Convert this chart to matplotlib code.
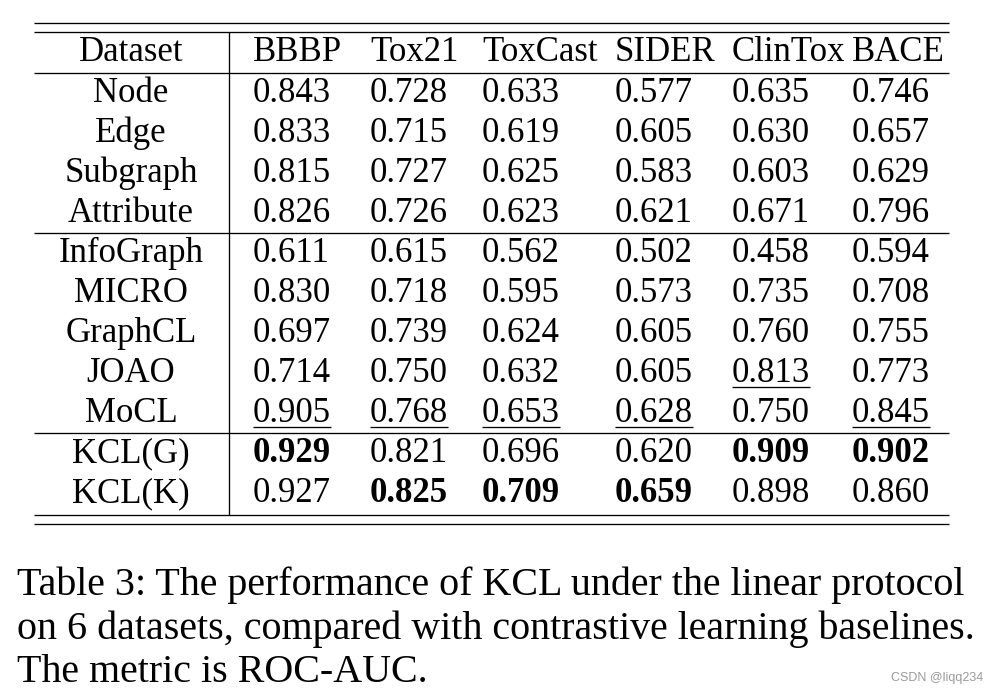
import matplotlib
matplotlib.use("Agg")
import matplotlib.pyplot as plt

datasets = ["BBBP", "Tox21", "ToxCast", "SIDER", "ClinTox", "BACE"]
methods = ["Node", "Edge", "Subgraph", "Attribute", "InfoGraph", "MICRO",
           "GraphCL", "JOAO", "MoCL", "KCL(G)", "KCL(K)"]
node = [0.843, 0.728, 0.633, 0.577, 0.635, 0.746]
edge = [0.833, 0.715, 0.619, 0.605, 0.630, 0.657]
subgraph = [0.815, 0.727, 0.625, 0.583, 0.603, 0.629]
attribute = [0.826, 0.726, 0.623, 0.621, 0.671, 0.796]
infograph = [0.611, 0.615, 0.562, 0.502, 0.458, 0.594]
micro = [0.830, 0.718, 0.595, 0.573, 0.735, 0.708]
graphcl = [0.697, 0.739, 0.624, 0.605, 0.760, 0.755]
joao = [0.714, 0.750, 0.632, 0.605, 0.813, 0.773]
mocl = [0.905, 0.768, 0.653, 0.628, 0.750, 0.845]
kcl_g = [0.929, 0.821, 0.696, 0.620, 0.909, 0.902]
kcl_k = [0.927, 0.825, 0.709, 0.659, 0.898, 0.860]
n_baselines = 9
caption_lines = [
    "Table 3: The performance of KCL under the linear protocol",
    "on 6 datasets, compared with contrastive learning baselines.",
    "The metric is ROC-AUC.",
]
watermark = "CSDN @liqq234"

rows = [node, edge, subgraph, attribute, infograph, micro, graphcl, joao,
        mocl, kcl_g, kcl_k]

W, H = 999, 694
fig = plt.figure(figsize=(W / 100, H / 100), dpi=100)
ax = fig.add_axes([0, 0, 1, 1])
ax.set_xlim(0, W)
ax.set_ylim(H, 0)
ax.axis("off")

FONT = "Liberation Serif"
FS = 25.0
LW = 0.95

# layout
col_x = [253, 370, 482, 615, 732, 852]
name_x = 131
header_y = 61
row_y0, row_dy = 102, 40
x_left, x_right, x_vert = 34, 949, 229

# rules
for y in [23, 32, 73, 233, 433, 515, 524]:
    ax.plot([x_left, x_right], [y, y], color="black", lw=LW,
            solid_capstyle="butt")
ax.plot([x_vert, x_vert], [32, 515], color="black", lw=LW,
        solid_capstyle="butt")

# header
ax.text(name_x, header_y, "Dataset", ha="center", va="baseline",
        fontsize=FS, family=FONT)
for x, d in zip(col_x, datasets):
    ax.text(x, header_y, d, ha="left", va="baseline", fontsize=FS, family=FONT)

# best / runner-up
ncol = len(datasets)
best = [max(r[j] for r in rows) for j in range(ncol)]
best_base = [max(r[j] for r in rows[:n_baselines]) for j in range(ncol)]

fig.canvas.draw()
renderer = fig.canvas.get_renderer()
inv = ax.transData.inverted()

for i, (m, r) in enumerate(zip(methods, rows)):
    y = row_y0 + row_dy * i
    ax.text(name_x, y, m, ha="center", va="baseline", fontsize=FS, family=FONT)
    for j, v in enumerate(r):
        bold = v == best[j]
        t = ax.text(col_x[j], y, f"{v:.3f}", ha="left", va="baseline",
                    fontsize=FS, family=FONT,
                    fontweight="bold" if bold else "normal")
        if i < n_baselines and v == best_base[j]:
            bb = t.get_window_extent(renderer)
            x0 = inv.transform((bb.x0, 0))[0]
            x1 = inv.transform((bb.x1, 0))[0]
            ax.plot([x0, x1], [y + 5, y + 5], color="black", lw=LW,
                    solid_capstyle="butt")

# caption
cap_y = [595, 639, 682]
for y, line in zip(cap_y, caption_lines):
    ax.text(17, y, line, ha="left", va="baseline", fontsize=28.8, family=FONT)

ax.text(983, 678, watermark, ha="right", va="center", fontsize=9,
        family="Liberation Sans", color="#9a9a9a")

fig.savefig("out.png", dpi=100)
